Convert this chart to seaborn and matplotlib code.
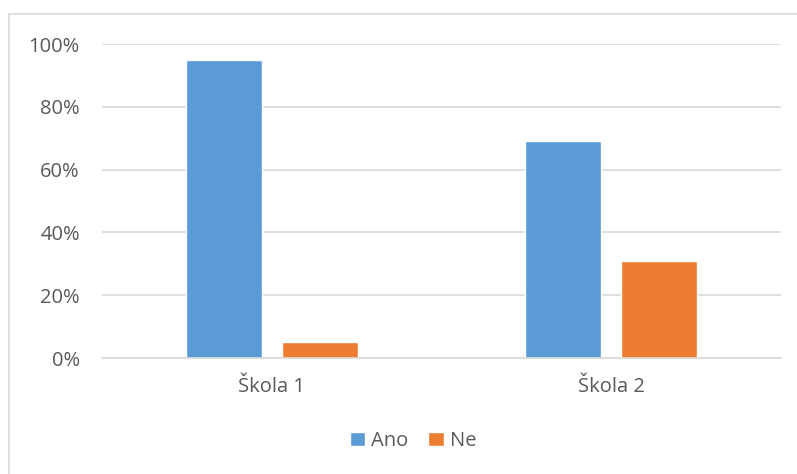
import pandas as pd
import matplotlib
matplotlib.use('Agg')
import matplotlib.pyplot as plt
import seaborn as sns
from matplotlib.patches import Rectangle
from matplotlib.ticker import PercentFormatter

schools = ['Škola 1', 'Škola 2']
answers = ['Ano', 'Ne']
ano = [0.95, 0.69]
ne = [0.05, 0.31]
colors = ['#5B9BD5', '#ED7D31']

df = pd.DataFrame({
    'school': schools * 2,
    'answer': ['Ano'] * 2 + ['Ne'] * 2,
    'value': ano + ne,
})

sns.set_style('white')
plt.rcParams['font.family'] = ['Open Sans', 'DejaVu Sans']
text_col = '#595959'
grid_col = '#D9D9D9'
fs = 14.5

fig = plt.figure(figsize=(7.97, 4.74), dpi=100)
ax = fig.add_axes([102 / 797, 1 - 358 / 474, 679 / 797, 314 / 474])

sns.barplot(data=df, x='school', y='value', hue='answer', hue_order=answers,
            palette=colors, width=0.566, gap=0.21, saturation=1, ax=ax,
            legend=True)

ax.set_ylim(0, 1)
ax.set_xlim(-0.5, 1.5)
ax.set_yticks([0, 0.2, 0.4, 0.6, 0.8, 1.0])
ax.yaxis.set_major_formatter(PercentFormatter(1.0, decimals=0))
ax.grid(axis='y', color=grid_col, linewidth=1.2)
ax.set_axisbelow(True)
for s in ['top', 'right', 'left']:
    ax.spines[s].set_visible(False)
ax.spines['bottom'].set_color(grid_col)
ax.spines['bottom'].set_linewidth(1.2)
ax.tick_params(axis='both', length=0, labelsize=fs, colors=text_col)
ax.tick_params(axis='y', pad=16)
ax.tick_params(axis='x', pad=14)
ax.set_xlabel('')
ax.set_ylabel('')

ax.legend(loc='center', bbox_to_anchor=(413 / 797, 1 - 441 / 474),
          bbox_transform=fig.transFigure, ncol=2, frameon=False,
          fontsize=fs, labelcolor=text_col, handlelength=0.75,
          handleheight=0.75, handletextpad=0.3, columnspacing=1.0)

# chart frame (only top and left edges visible in the crop)
fig.patches.append(Rectangle((8.5 / 797, -0.1), 1.2, 1 - 14.5 / 474 + 0.1,
                             transform=fig.transFigure, fill=False,
                             edgecolor=grid_col, linewidth=1.2))

fig.savefig('out.png', dpi=100)
